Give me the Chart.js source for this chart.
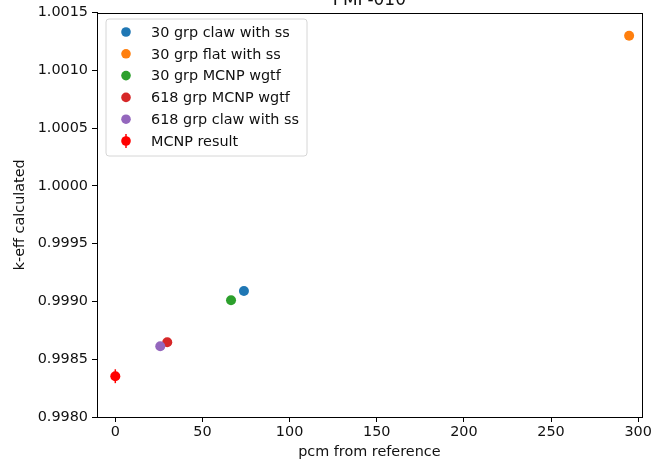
<!DOCTYPE html>
<html>
<head>
<meta charset="utf-8">
<script src="https://cdn.jsdelivr.net/npm/chart.js@4/dist/chart.umd.min.js"></script>
<style>
  html, body { margin: 0; padding: 0; background: #fff; }
  #wrap { width: 654px; height: 462px; }
</style>
</head>
<body>
<div id="wrap"><canvas id="chart" width="654" height="462"></canvas></div>
<script>
const chartTitle = 'PMF-010';
const seriesNames = ['30 grp claw with ss', '30 grp flat with ss', '30 grp MCNP wgtf', '618 grp MCNP wgtf', '618 grp claw with ss', 'MCNP result'];
const seriesColors = ['#1f77b4', '#ff7f0e', '#2ca02c', '#d62728', '#9467bd', '#ff0000'];
const pcmValues = [73.8, 294.8, 66.4, 29.8, 25.8, 0];
const keffValues = [0.99909, 1.00130, 0.99901, 0.998647, 0.998613, 0.998353];
const keffErrors = [0, 0, 0, 0, 0, 0.00006];
const xTicks = [0, 50, 100, 150, 200, 250, 300];
const yTicks = [0.9980, 0.9985, 0.9990, 0.9995, 1.0000, 1.0005, 1.0010, 1.0015];

const font = 'DejaVu Sans';
const fs = 14.4;

// 誤差棒（MCNP result のみ）
const errorBars = {
  id: 'errorBars',
  beforeDatasetsDraw(chart) {
    const ctx = chart.ctx, xs = chart.scales.x, ys = chart.scales.y;
    ctx.save();
    keffErrors.forEach((e, i) => {
      if (!e) return;
      const px = xs.getPixelForValue(pcmValues[i]);
      ctx.strokeStyle = seriesColors[i];
      ctx.lineWidth = 1.5;
      ctx.beginPath();
      ctx.moveTo(px, ys.getPixelForValue(keffValues[i] - e));
      ctx.lineTo(px, ys.getPixelForValue(keffValues[i] + e));
      ctx.stroke();
    });
    ctx.restore();
  }
};

// 枠線・タイトル・凡例
const frame = {
  id: 'frame',
  afterDraw(chart) {
    const ctx = chart.ctx, a = chart.chartArea;
    ctx.save();
    ctx.strokeStyle = '#000';
    ctx.lineWidth = 1;
    ctx.strokeRect(Math.round(a.left) + 0.5, Math.round(a.top) + 0.5, Math.round(a.right - a.left), Math.round(a.bottom - a.top));

    ctx.fillStyle = '#111';
    ctx.font = '17px "' + font + '"';
    ctx.textAlign = 'center';
    ctx.textBaseline = 'alphabetic';
    ctx.fillText(chartTitle, (a.left + a.right) / 2, 5);

    // legend box
    const bx = 106, by = 19, bw = 201, bh = 137, r = 3;
    ctx.beginPath();
    ctx.moveTo(bx + r, by);
    ctx.arcTo(bx + bw, by, bx + bw, by + bh, r);
    ctx.arcTo(bx + bw, by + bh, bx, by + bh, r);
    ctx.arcTo(bx, by + bh, bx, by, r);
    ctx.arcTo(bx, by, bx + bw, by, r);
    ctx.closePath();
    ctx.fillStyle = 'rgba(255,255,255,0.8)';
    ctx.fill();
    ctx.strokeStyle = '#d6d6d6';
    ctx.lineWidth = 1;
    ctx.stroke();

    ctx.font = fs + 'px "' + font + '"';
    ctx.textAlign = 'left';
    ctx.textBaseline = 'middle';
    seriesNames.forEach((name, i) => {
      const y = 32 + i * 21.8;
      ctx.fillStyle = seriesColors[i];
      if (keffErrors[i]) {
        ctx.strokeStyle = seriesColors[i];
        ctx.lineWidth = 1.5;
        ctx.beginPath();
        ctx.moveTo(126, y - 7);
        ctx.lineTo(126, y + 7);
        ctx.stroke();
      }
      ctx.beginPath();
      ctx.arc(126, y, 4.8, 0, Math.PI * 2);
      ctx.fill();
      ctx.fillStyle = '#111';
      ctx.fillText(name, 151, y + 1);
    });
    ctx.restore();
  }
};

const datasets = seriesNames.map((name, i) => ({
  label: name,
  data: [{ x: pcmValues[i], y: keffValues[i] }],
  backgroundColor: seriesColors[i],
  borderWidth: 0,
  pointRadius: 5,
  order: seriesNames.length - i
}));

new Chart(document.getElementById('chart'), {
  type: 'scatter',
  data: { datasets: datasets },
  options: {
    responsive: false,
    animation: false,
    devicePixelRatio: 1,
    layout: { padding: { top: 12, right: 12, left: 0, bottom: 0 } },
    plugins: { legend: { display: false }, tooltip: { enabled: false } },
    scales: {
      x: {
        type: 'linear',
        min: -10.5,
        max: 302,
        afterBuildTicks: s => { s.ticks = xTicks.map(v => ({ value: v })); },
        afterFit: s => { s.height = 45; },
        grid: { display: true, drawOnChartArea: false, drawTicks: true, tickLength: 5, color: '#000' },
        border: { display: true, color: '#000' },
        ticks: { color: '#111', font: { family: font, size: fs }, padding: 2, maxRotation: 0 },
        title: { display: true, text: 'pcm from reference', color: '#111', font: { family: font, size: fs }, padding: { top: 0, bottom: 1 } }
      },
      y: {
        type: 'linear',
        min: 0.9980,
        max: 1.0015,
        afterBuildTicks: s => { s.ticks = yTicks.map(v => ({ value: v })); },
        afterFit: s => { s.width = 97; },
        grid: { display: true, drawOnChartArea: false, drawTicks: true, tickLength: 5, color: '#000' },
        border: { display: true, color: '#000' },
        ticks: { color: '#111', font: { family: font, size: fs }, padding: 4, callback: v => v.toFixed(4) },
        title: { display: true, text: 'k-eff calculated', color: '#111', font: { family: font, size: fs }, padding: { top: 12, bottom: 0 } }
      }
    }
  },
  plugins: [errorBars, frame]
});
</script>
</body>
</html>
